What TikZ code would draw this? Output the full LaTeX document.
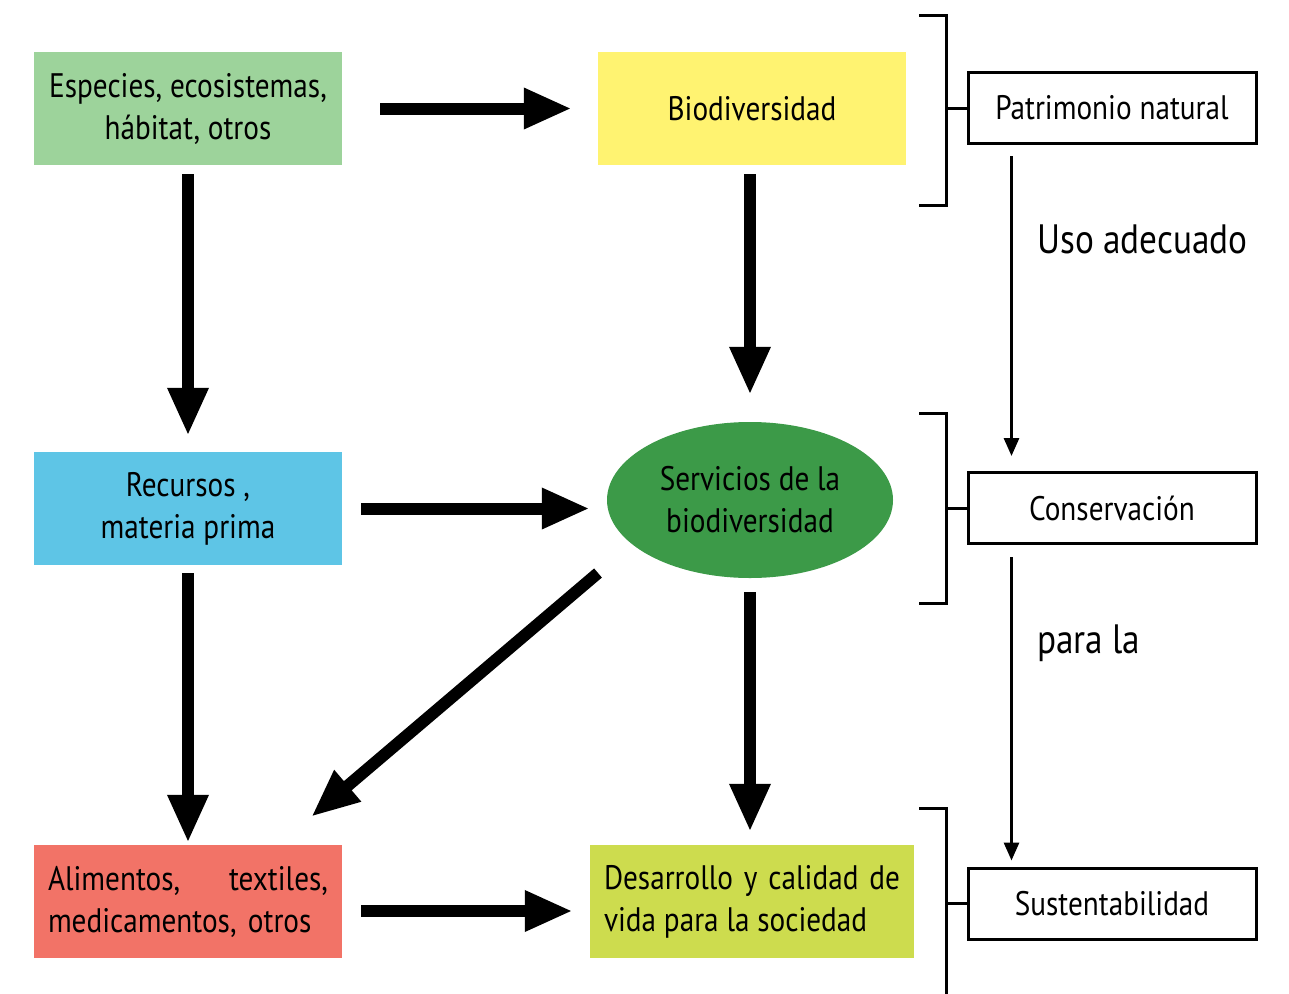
\documentclass[tikz,border=0pt]{standalone}
\usepackage{fontspec}
\setmainfont{PT Sans}[FakeStretch=0.86]
\usetikzlibrary{arrows.meta,shapes.geometric,calc}
\definecolor{cgreen}{HTML}{9DD39B}
\definecolor{cyellow}{HTML}{FFF371}
\definecolor{cblue}{HTML}{5EC5E6}
\definecolor{cdark}{HTML}{3C9A48}
\definecolor{cred}{HTML}{F27367}
\definecolor{clime}{HTML}{CDDC4E}
\begin{document}
\begin{tikzpicture}[x=1pt,y=-1pt,
  font=\fontsize{34}{42}\selectfont,
  cbox/.style={rectangle,inner sep=0pt,minimum width=308pt,minimum height=113pt,align=center},
  wbox/.style={rectangle,draw=black,line width=3pt,fill=white,inner sep=0pt,minimum width=288pt,minimum height=71pt,align=center},
  big/.style={line width=12pt,-{Triangle[length=48pt,width=38pt]}},
  thin/.style={line width=3pt,-{Triangle[length=18pt,width=15pt]}},
  brk/.style={line width=3pt}]
\useasboundingbox (0,0) rectangle (1289,993);
% coloured boxes
\node[cbox,fill=cgreen] (esp) at (188,108.5) {Especies, ecosistemas,\\hábitat, otros};
\node[cbox,fill=cyellow] (bio) at (752,108.5) {Biodiversidad};
\node[cbox,fill=cblue] (rec) at (188,508.5) {Recursos ,\\materia prima};
\node[ellipse,fill=cdark,inner sep=0pt,minimum width=286pt,minimum height=156pt,align=center] (ell) at (750,500) {Servicios de la\\biodiversidad};
\node[cbox,fill=cred,text width=280pt,align=left] (ali) at (188,901.5) {{\parfillskip=0pt Alimentos,\hfill textiles,\par}medicamentos, otros};
\node[cbox,fill=clime,minimum width=324pt,text width=296pt,align=justify] (des) at (752,901.5) {{\parfillskip=0pt Desarrollo y calidad de\par}vida para la sociedad};
% right boxes
\node[wbox] (pat) at (1112,108) {Patrimonio natural};
\node[wbox] (con) at (1112,508) {Conservación};
\node[wbox] (sus) at (1112,903.5) {Sustentabilidad};
% thick arrows
\draw[big] ([xshift=38pt]esp.east) -- ([xshift=-26pt]bio.west);
\draw[big] ([yshift=-9pt]esp.south) -- ([yshift=16pt]rec.north);
\draw[big] ([yshift=-9pt]bio.south -| ell.north) -- ([yshift=27pt]ell.north);
\draw[big] ([xshift=19pt]rec.east) -- ($(rec.east -| ell.west)+(-17,0)$);
\draw[big] ([yshift=-8pt]rec.south) -- ([yshift=2pt]ali.north);
\draw[big] ($(ell.center)+(-152,73)$) -- ($(ali.north east)+(-31,-28)$);
\draw[big] ([yshift=-14pt]ell.south) -- ([yshift=13pt]des.north -| ell.south);
\draw[big] ($(ali.east)+(19,9.5)$) -- ($(des.west)+(-17,9.5)$);
% thin arrows
\draw[thin] ($(pat.south west)+(45,11)$) -- ($(con.north west)+(45,-15)$);
\draw[thin] ($(con.south west)+(45,12)$) -- ($(sus.north west)+(45,-6)$);
% brackets
\coordinate (b1t) at (919,15); \coordinate (b1b) at (919,205);
\coordinate (b2t) at (919,413); \coordinate (b2b) at (919,603);
\coordinate (b3t) at (919,808); \coordinate (b3b) at (946,1000);
\draw[brk] (b1t) -- ++(27,0) |- (b1b);
\draw[brk] (pat.west) -- ++(-22,0);
\draw[brk] (b2t) -- ++(27,0) |- (b2b);
\draw[brk] (con.west) -- ++(-22,0);
\draw[brk] (b3t) -- (b3t -| b3b) -- (b3b);
\draw[brk] (sus.west) -- ++(-22,0);
% labels
\node[anchor=base west,inner sep=0pt,font=\fontsize{41}{48}\selectfont] (uso) at (1037,253) {Uso adecuado};
\node[anchor=base west,inner sep=0pt,font=\fontsize{41}{48}\selectfont] (para) at (1037,653) {para la};
\end{tikzpicture}
\end{document}
